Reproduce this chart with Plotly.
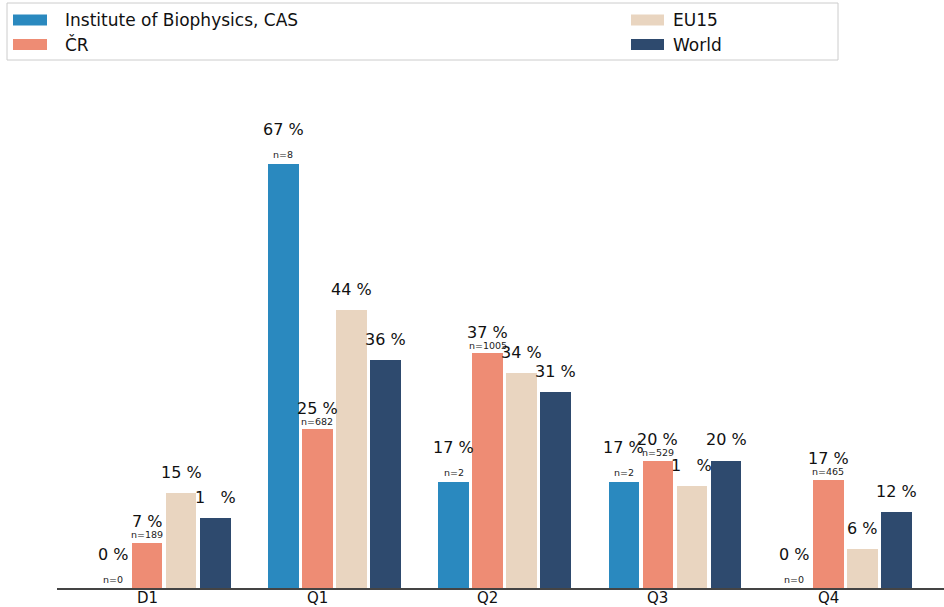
import plotly.graph_objects as go

# ---------------- data ----------------
categories = ["D1", "Q1", "Q2", "Q3", "Q4"]
series_names = ["Institute of Biophysics, CAS", "ČR", "EU15", "World"]
ibp_values = [0.0, 66.7, 16.7, 16.7, 0.0]
ibp_n = [0, 8, 2, 2, 0]
cr_values = [7.1, 25.0, 36.9, 20.0, 17.0]
cr_n = [189, 682, 1005, 529, 465]
eu15_values = [14.9, 43.7, 33.8, 16.0, 6.1]
world_values = [11.0, 35.8, 30.8, 20.0, 11.9]

colors = ["#2A89BF", "#EE8C74", "#E9D5C0", "#2E4A6E"]
series_values = [ibp_values, cr_values, eu15_values, world_values]
series_n = [ibp_n, cr_n, None, None]
offsets = [-0.2, 0.0, 0.2, 0.4]
bar_w = 0.18
pct_shift = [34, 21, 21, 21]
n_shift = [9, 8, 8, 8]
# labels whose second digit is masked in the original picture
masked = {(3, 0), (2, 3)}

W, H = 944, 607
ML, MR, MT, MB = 57, 0, 70, 19
PW, PH = W - ML - MR, H - MT - MB
FONT = "DejaVu Sans"


def px(x):
    return (x - ML) / PW


def py(y):
    return (H - MB - y) / PH


fig = go.Figure()
annotations = []
for s, (name, vals, col) in enumerate(zip(series_names, series_values, colors)):
    xs = [i + offsets[s] for i in range(len(categories))]
    fig.add_trace(go.Bar(x=xs, y=vals, width=bar_w, marker_color=col,
                         marker_line_width=0, name=name, showlegend=False,
                         hoverinfo="skip"))
    for i, v in enumerate(vals):
        txt = f"{round(v)} %"
        if (s, i) in masked:
            t = str(round(v))
            txt = t[0] + '<span style="color:white">' + t[1:] + '</span> %'
        annotations.append(dict(x=xs[i], y=v, xref="x", yref="y", text=txt,
                                showarrow=False, yanchor="middle",
                                yshift=pct_shift[s],
                                font=dict(family=FONT, size=16, color="#111")))
        if series_n[s] is not None:
            annotations.append(dict(x=xs[i], y=v, xref="x", yref="y",
                                    text=f"n={series_n[s][i]}",
                                    showarrow=False, yanchor="middle",
                                    yshift=n_shift[s],
                                    font=dict(family=FONT, size=9.5, color="#222")))

# category labels under the axis
for i, c in enumerate(categories):
    annotations.append(dict(x=i, y=0, xref="x", yref="y", text=c,
                            showarrow=False, yanchor="top", yshift=1,
                            font=dict(family=FONT, size=15, color="#111")))

# manual legend
shapes = [dict(type="rect", xref="paper", yref="paper",
               x0=px(7), x1=px(838), y0=py(60), y1=py(3),
               line=dict(color="#CCCCCC", width=1), fillcolor="white", layer="above")]
leg_pos = [(13, 47, 63, 20), (13, 47, 63, 44.5), (631, 664, 671, 20), (631, 664, 671, 44.5)]
for (x0, x1, tx, cy), name, col in zip(leg_pos, series_names, colors):
    shapes.append(dict(type="rect", xref="paper", yref="paper",
                       x0=px(x0), x1=px(x1), y0=py(cy + 5.5), y1=py(cy - 5.5),
                       line=dict(width=0), fillcolor=col, layer="above"))
    annotations.append(dict(x=px(tx), y=py(cy), xref="paper", yref="paper",
                            text=name, showarrow=False, xanchor="left",
                            yanchor="middle",
                            font=dict(family=FONT, size=17, color="#111")))

fig.update_layout(
    width=W, height=H,
    margin=dict(l=ML, r=MR, t=MT, b=MB),
    plot_bgcolor="white", paper_bgcolor="white",
    bargap=0, barmode="overlay",
    annotations=annotations, shapes=shapes,
    xaxis=dict(range=[-0.529, 4.68], tickvals=list(range(len(categories))),
               ticktext=categories, showticklabels=False,
               showgrid=False, zeroline=False, automargin=False,
               showline=True, linecolor="#444444", linewidth=1.5, ticks=""),
    yaxis=dict(range=[0, 81.45], visible=False, showgrid=False, zeroline=False,
               automargin=False),
)

fig.write_html("out.html", config={"displayModeBar": False},
               post_script="document.body.style.margin='0';document.body.style.overflow='hidden';")
